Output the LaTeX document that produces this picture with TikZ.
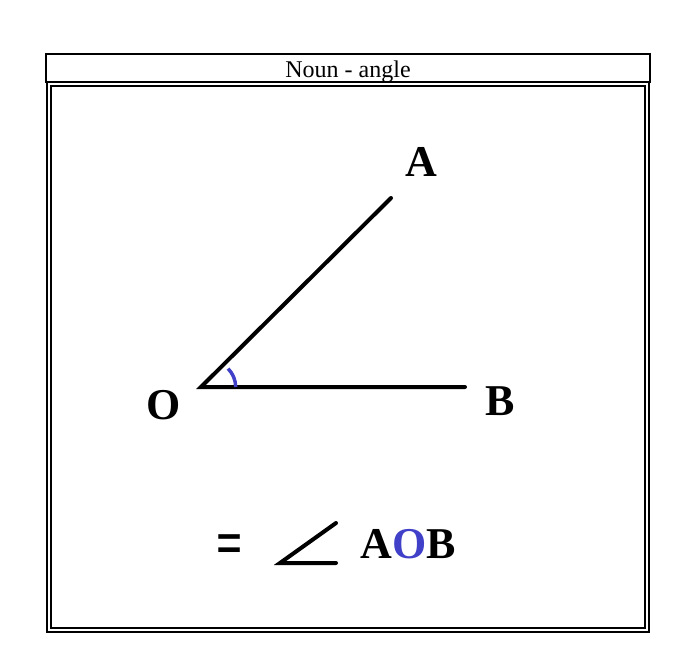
\documentclass[tikz,border=0pt]{standalone}
\usepackage{fontspec}
\setmainfont{Liberation Serif}
\definecolor{oblue}{HTML}{4040C8}
\begin{document}
\begin{tikzpicture}[x=0.75pt,y=-0.75pt,
  frame/.style={draw=black,line width=1pt},
  seg/.style={draw=black,line width=3pt,line cap=round},
  lbl/.style={inner sep=0pt,font=\fontsize{33}{36}\selectfont\bfseries},
  ttl/.style={inner sep=0pt,font=\fontsize{18}{20}\selectfont}]
\useasboundingbox (0,0) rectangle (692,668);
% frames
\draw[frame] (46,54) rectangle (650,82);
\draw[frame] (47,82) rectangle (649,632);
\draw[frame] (51,86) rectangle (645,628);
\draw[black,line width=1.5pt] (46,82) -- (650,82);
\node[ttl,anchor=base] (title) at (348,77) {Noun - angle};
% angle
\coordinate (O) at (201,387);
\coordinate (A) at (391,198);
\coordinate (B) at (465,387);
\draw[seg] (A) -- (O) -- (B);
\draw[oblue,line width=2.6pt] ([xshift=26]O) arc[start angle=0,end angle=-45,radius=26];
\node[lbl] (la) at (421,162) {A};
\node[lbl] (lo) at (164,405) {O};
\node[lbl] (lb) at (500,401) {B};
% bottom notation
\node[lbl] (eq) at (230,550) {\scalebox{1.05}[1.5]{=}};
\coordinate (S) at (280,563);
\coordinate (S1) at (336,523);
\coordinate (S2) at (336,563);
\draw[seg] (S1) -- (S) -- (S2);
\node[lbl] (aob) at (408,544) {A{\color{oblue}O}B};
\end{tikzpicture}
\end{document}
